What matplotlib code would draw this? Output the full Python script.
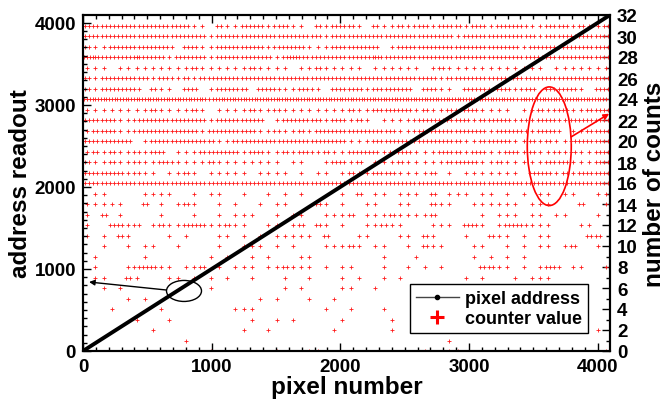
import matplotlib
matplotlib.use("Agg")
import matplotlib.pyplot as plt
from matplotlib.patches import Ellipse
from matplotlib.lines import Line2D
from matplotlib.ticker import MultipleLocator

plt.rcParams['font.family'] = ['Liberation Sans', 'DejaVu Sans']
plt.rcParams['font.weight'] = 'bold'

# ---- data -------------------------------------------------------------
n_pixels = 4096
pixel_number_line = [0, 4095]
address_readout = [0, 4095]

# counter value occupancy: for each count level, 64 bins of
# 64 pixels each (left half + right half); digit = number of markers in bin
bin_width = 64
count_rows = {
    31: ("22222222222221102112221221102122", "21021121221222122122221122212112"),
    30: ("22222222222222212222222222222122", "22222222222221222222222122222222"),
    29: ("21122222222022112222221222211122", "22220122222222222222212222222222"),
    28: ("33222232221222212222222123222222", "22232222222222222222222222222222"),
    27: ("11101111111112111111211110112111", "11011111101211111111111101111111"),
    26: ("21222222122121222222222222222222", "22222222222122222222222222222222"),
    25: ("21222220211022012222022211221022", "22122222022110222222122022221022"),
    24: ("33333333333333323333333333333333", "33333333333333333333233333333333"),
    23: ("11111111211112101111211211111111", "21122222121122221111011212211222"),
    22: ("22221122222222212222220122222122", "12101111222222212222121222122222"),
    21: ("12221122222222122222211211212222", "22222211222222222122221222011222"),
    20: ("22222201222222221122222222222222", "11122222222222112222112121122222"),
    19: ("12121121220111222221221121221211", "22221222111222122112212112121122"),
    18: ("21121121122111121111111101100122", "12011121111122221121111122211122"),
    17: ("22222121101121011111011110101101", "21122211112010111111102221212222"),
    16: ("22222222222222222222222222222222", "22222222222222222222222222222222"),
    15: ("01100001111001011001001010100001", "02011011102011101101010110110011"),
    14: ("11111002010121001010010110002101", "00110011002110011111101110002001"),
    13: ("10201000010001001011100101100111", "20111211112000001011101101100010"),
    12: ("10022120121122211211001101202101", "00112110001110221012221110001100"),
    11: ("10102100001010001101010111110200", "01100011021000100211010110000220"),
    10: ("00100101100100001001110101000111", "21011001021100011001010110120010"),
    9:  ("01000001000000010100101000110000", "00001000100000010101010000000000"),
    8:  ("01000122211011201011101121110101", "10001001010100002211010122011001"),
    7:  ("01100210001101010100100010010001", "01001010000000101000101110000000"),
    6:  ("00101000000000010000000010100001", "10010000000000000000000000000000"),
    5:  ("00000101000000000000010100010010", "00000000000000000000000000000000"),
    4:  ("00010000010000000011100000000100", "10001000000000000000000000000000"),
    3:  ("00000010001000000000100101000001", "00000100000000000000000000000000"),
    2:  ("00000000100000000001001000000010", "00000100000000000000000000000010"),
    1:  ("00000000000010000000000000000000", "00000000000010000000000000000000"),
    0:  ("00000000000000010000000100011000", "00000000010011000000000000000011"),
}

x_ticks = [0, 1000, 2000, 3000, 4000]
y_left_ticks = [0, 1000, 2000, 3000, 4000]
y_right_ticks = list(range(0, 33, 2))

# ---- expand occupancy into marker positions -----------------------------
cx, cy = [], []
for level, (left, right) in count_rows.items():
    row = left.ljust(32, '0')[:32] + right.ljust(32, '0')[:32]
    for i, ch in enumerate(row):
        d = int(ch)
        for j in range(d):
            cx.append((i + (j + 0.5) / d) * bin_width)
            cy.append(level)

# ---- figure -------------------------------------------------------------
fig = plt.figure(figsize=(6.72, 4.02), dpi=100)
ax = fig.add_axes([83/672, 1-352/402, (610-83)/672, (352-16)/402])
ax2 = ax.twinx()

ax2.plot(cx, cy, linestyle='none', marker='+', color='#ff1a1a',
         markersize=2.7, markeredgewidth=0.6)
ax2.set_ylim(0, 32)

ax.set_zorder(ax2.get_zorder() + 1)
ax.patch.set_visible(False)

ax.plot(pixel_number_line, address_readout, color='black', lw=2.8,
        solid_capstyle='butt')
ax.set_xlim(0, n_pixels)
ax.set_ylim(0, n_pixels)

ax.set_xticks(x_ticks)
ax.set_yticks(y_left_ticks)
ax2.set_yticks(y_right_ticks)
ax.xaxis.set_minor_locator(MultipleLocator(100))
ax.yaxis.set_minor_locator(MultipleLocator(100))
ax2.yaxis.set_minor_locator(MultipleLocator(1))

for a in (ax, ax2):
    for s in a.spines.values():
        s.set_linewidth(1.5)
ax.tick_params(which='both', direction='in', top=True, right=False,
               labelsize=13.5, width=1.0)
ax.tick_params(which='major', length=5.5, pad=5)
ax.tick_params(which='minor', length=3)
ax2.tick_params(which='both', direction='in', labelsize=13.5, width=1.0)
ax2.tick_params(which='major', length=5.5, pad=5)
ax2.tick_params(which='minor', length=3)
for lab in ax.get_xticklabels() + ax.get_yticklabels() + ax2.get_yticklabels():
    lab.set_fontweight('bold')

ax.set_xlabel('pixel number', fontsize=17.5, fontweight='bold', labelpad=0)
ax.set_ylabel('address readout', fontsize=17.5, fontweight='bold', labelpad=2)
ax2.set_ylabel('number of counts', fontsize=17.5, fontweight='bold',
               rotation=90, labelpad=4)

# annotations
ax.add_patch(Ellipse((785, 732), 272, 256, fill=False, edgecolor='black', lw=1))
ax.annotate('', xy=(47, 841), xytext=(645, 744),
            arrowprops=dict(arrowstyle='-|>', color='black', lw=1,
                            mutation_scale=8, shrinkA=0, shrinkB=0))
ax2.add_patch(Ellipse((3624, 19.5), 342, 11.3, fill=False, edgecolor='red', lw=1.2))
ax2.annotate('', xy=(4090, 22.6), xytext=(3795, 20.4),
             arrowprops=dict(arrowstyle='-|>', color='red', lw=1.2,
                             mutation_scale=8, shrinkA=0, shrinkB=0))

handles = [Line2D([], [], color='#444444', lw=1, marker='o', markersize=3,
                  markerfacecolor='black', markeredgecolor='black'),
           Line2D([], [], color='red', linestyle='none', marker='+',
                  markersize=10, markeredgewidth=2.2)]
leg = ax.legend(handles, ['pixel address', 'counter value'],
                loc='lower right', bbox_to_anchor=(0.958, 0.054),
                borderaxespad=0, fancybox=False, framealpha=1,
                edgecolor='black', prop={'weight': 'bold', 'size': 13},
                handlelength=2.4, handletextpad=0.35, labelspacing=0.2,
                borderpad=0.3)
leg.get_frame().set_linewidth(1.0)

fig.savefig('out.png', dpi=100)
